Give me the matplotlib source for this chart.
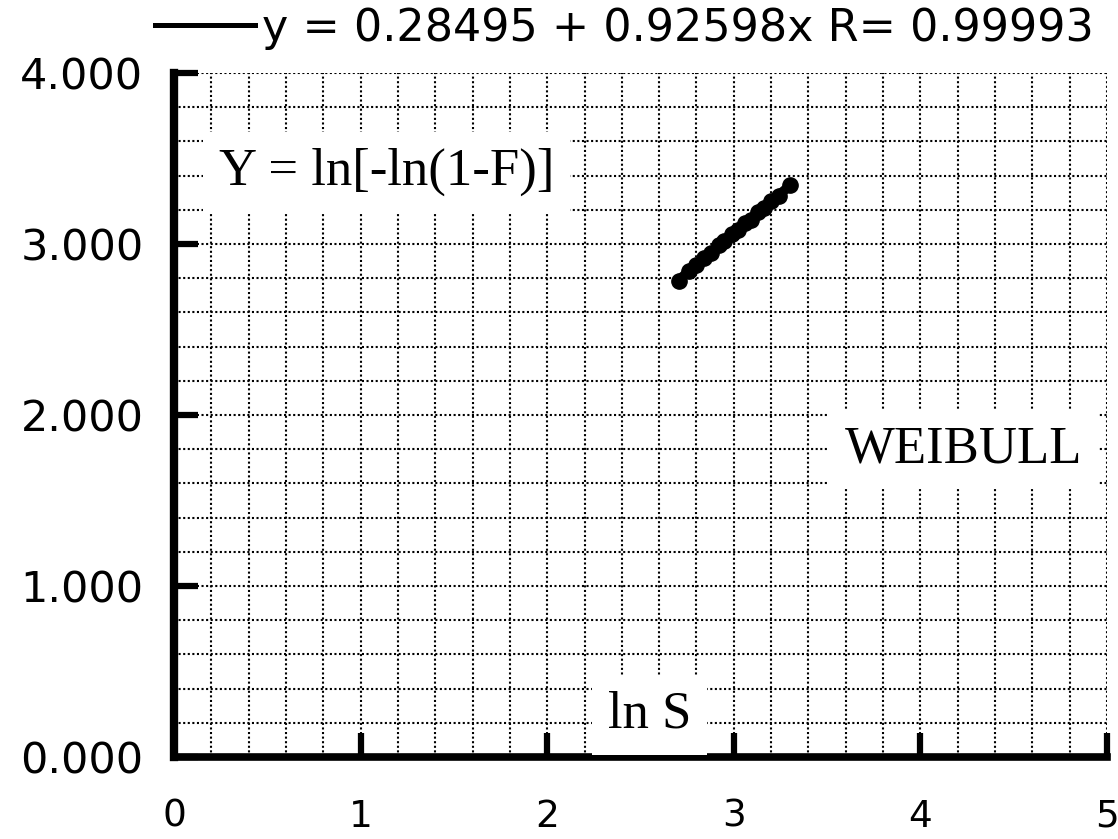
import matplotlib
matplotlib.use("Agg")
import matplotlib.pyplot as plt
from matplotlib.lines import Line2D
from matplotlib.ticker import MultipleLocator, FormatStrFormatter
import numpy as np

# ---- data ----
ln_s = [2.706, 2.76, 2.80, 2.84, 2.88, 2.92, 2.95, 2.99, 3.02, 3.06,
        3.09, 3.13, 3.16, 3.20, 3.24, 3.30]
y_vals = [2.785, 2.843, 2.876, 2.918, 2.950, 2.992, 3.015, 3.057, 3.079, 3.121,
          3.143, 3.186, 3.208, 3.251, 3.282, 3.343]
fit_intercept = 0.28495
fit_slope = 0.92598
fit_label = "y = 0.28495 + 0.92598x R= 0.99993"
x_ticks = [0, 1, 2, 3, 4, 5]
y_ticks = [0, 1, 2, 3, 4]

fig = plt.figure(figsize=(11.18, 8.39), dpi=100)
ax = fig.add_axes([174/1118, 82/839, (1107-174)/1118, (757-73)/839])

ax.set_xlim(0, 5)
ax.set_ylim(0, 4)

ax.xaxis.set_minor_locator(MultipleLocator(0.2))
ax.yaxis.set_minor_locator(MultipleLocator(0.2))
ax.set_xticks(x_ticks)
ax.set_yticks(y_ticks)
ax.yaxis.set_major_formatter(FormatStrFormatter('%.3f'))

ax.grid(True, which='both', color='black', linestyle=(0, (1, 1.2)), linewidth=1.5)
ax.set_axisbelow(True)

for s in ['top', 'right']:
    ax.spines[s].set_visible(False)
ax.spines['left'].set_linewidth(6)
ax.spines['bottom'].set_linewidth(5.5)

ax.tick_params(axis='both', which='major', direction='in', length=17, width=4.5,
               color='black')
ax.tick_params(axis='x', which='major', pad=30, labelsize=27)
ax.tick_params(axis='y', which='major', pad=22, labelsize=31)
ax.tick_params(axis='both', which='minor', length=0)
for lab in ax.get_xticklabels() + ax.get_yticklabels():
    lab.set_family('DejaVu Sans')

# data and fit line
xs = np.array(ln_s)
fit_x = np.array([xs.min(), xs.max()])
ax.plot(fit_x, fit_intercept + fit_slope * fit_x, color='black', linewidth=7,
        solid_capstyle='round', zorder=4)
ax.plot(xs, y_vals, 'o', color='black', markersize=11, zorder=5)

# annotations
box = dict(boxstyle='square,pad=0.3', facecolor='white', edgecolor='none')
ax.text(1.14, 3.345, "Y = ln[-ln(1-F)]", family='Liberation Serif', fontsize=38,
        ha='center', va='baseline', bbox=box, zorder=6)
ax.text(4.234, 1.725, "WEIBULL", family='Liberation Serif', fontsize=38,
        ha='center', va='baseline', bbox=box, zorder=6)
ax.text(2.55, 0.17, "ln S", family='Liberation Serif', fontsize=38,
        ha='center', va='baseline', bbox=box, zorder=6)

# legend
proxy = Line2D([], [], color='black', linewidth=3.6)
ax.legend(handles=[proxy], labels=[fit_label], loc='center left',
          bbox_to_anchor=(155/1118, 1 - 28/839), bbox_transform=fig.transFigure,
          frameon=False, borderpad=0, borderaxespad=0, handlelength=2.25,
          handletextpad=0.16, prop={'family': 'DejaVu Sans', 'size': 32})

fig.savefig("out.png", dpi=100)
